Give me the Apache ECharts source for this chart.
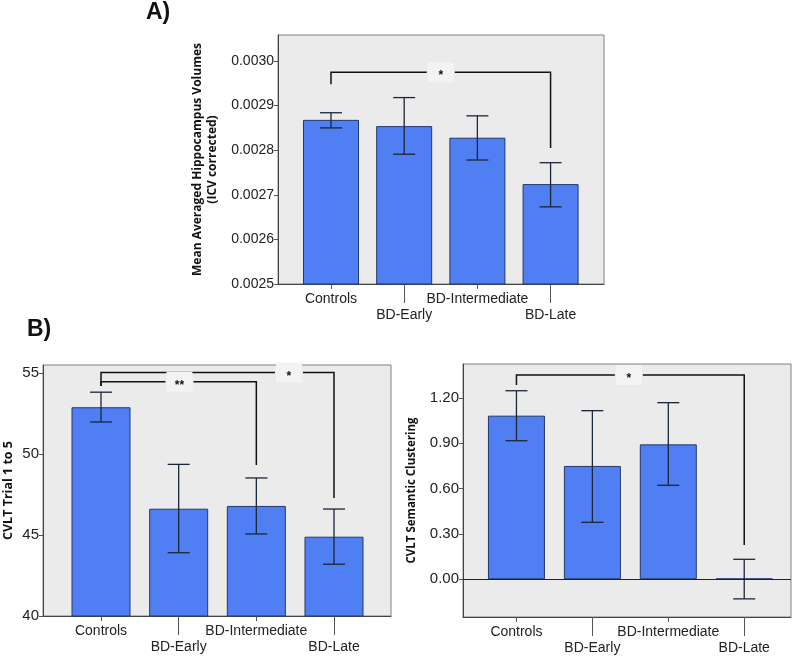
<!DOCTYPE html>
<html>
<head>
<meta charset="utf-8">
<script src="https://cdn.jsdelivr.net/npm/echarts@6/dist/echarts.min.js"></script>
<style>
  html, body { margin: 0; padding: 0; background: #fff; }
  #chart { width: 800px; height: 657px; }
</style>
</head>
<body>
<div id="chart"></div>
<script>
var groups = ['Controls', 'BD-Early', 'BD-Intermediate', 'BD-Late'];

// A) hippocampus volumes (mean, error bar low/high)
var hippoMean = [0.002868, 0.002854, 0.002828, 0.002724];
var hippoLow  = [0.002850, 0.002791, 0.002778, 0.002673];
var hippoHigh = [0.002884, 0.002918, 0.002877, 0.002772];
var hippoTicks = [0.0025, 0.0026, 0.0027, 0.0028, 0.0029, 0.0030];

// B) CVLT trial 1 to 5
var trialMean = [52.9, 46.63, 46.8, 44.9];
var trialLow  = [51.99, 43.91, 45.07, 43.2];
var trialHigh = [53.83, 49.37, 48.53, 46.61];
var trialTicks = [40, 45, 50, 55];

// B) CVLT semantic clustering
var clusterMean = [1.083, 0.75, 0.893, 0.004];
var clusterLow  = [0.917, 0.377, 0.622, -0.13];
var clusterHigh = [1.248, 1.116, 1.169, 0.132];
var clusterTicks = [0, 0.3, 0.6, 0.9, 1.2];

// significance brackets: [from, to, top, left end, right end, label at]
var hippoSig = [[0, 3, 0.002975, 0.002948, 0.002805, 1.5]];
var hippoSigText = ['*'];
var trialSig = [[0, 3, 55.04, 54.22, 47.29, 2.42], [0, 2, 54.48, 54.22, 49.33, 1.01]];
var trialSigText = ['*', '**'];
var clusterSig = [[0, 3, 1.352, 1.286, 0.227, 1.48]];
var clusterSigText = ['*'];

var FONT = 'Liberation Sans, Arial, sans-serif';
var TITLE_FONT = 'Open Sans, sans-serif';

var panels = [
  { grid: { left: 278, top: 35, width: 326, height: 249 },
    xMin: -0.724, xMax: 3.73, yMin: 0.0025, yMax: 0.0030583, ticks: hippoTicks, digits: 4,
    mean: hippoMean, low: hippoLow, high: hippoHigh, sig: hippoSig, sigText: hippoSigText,
    barWidth: 56, name: 'Mean Averaged Hippocampus Volumes\n(ICV corrected)', nameGap: 58, nameSize: 12, labelSize: 14 },
  { grid: { left: 40, top: 365, width: 351, height: 251 },
    xMin: -0.747, xMax: 3.734, yMin: 40, yMax: 55.51, ticks: trialTicks, digits: 0,
    mean: trialMean, low: trialLow, high: trialHigh, sig: trialSig, sigText: trialSigText,
    barWidth: 59, name: 'CVLT Trial 1 to 5', nameGap: 27, nameSize: 12.5, labelSize: 15 },
  { grid: { left: 463, top: 364, width: 328, height: 253 },
    xMin: -0.704, xMax: 3.616, yMin: -0.25, yMax: 1.425, ticks: clusterTicks, digits: 2,
    mean: clusterMean, low: clusterLow, high: clusterHigh, sig: clusterSig, sigText: clusterSigText,
    barWidth: 57, name: 'CVLT Semantic Clustering', nameGap: 44, nameSize: 11.5, labelSize: 15, zeroLine: true }
];

function errorItem(params, api){
  var lo = api.coord([api.value(0), api.value(1)]);
  var hi = api.coord([api.value(0), api.value(2)]);
  var w = 11;
  var st = { stroke: '#1b2638', lineWidth: 1.3 };
  return { type: 'group', children: [
    { type: 'line', shape: { x1: lo[0], y1: lo[1], x2: hi[0], y2: hi[1] }, style: st },
    { type: 'line', shape: { x1: lo[0] - w, y1: lo[1], x2: lo[0] + w, y2: lo[1] }, style: st },
    { type: 'line', shape: { x1: hi[0] - w, y1: hi[1], x2: hi[0] + w, y2: hi[1] }, style: st }
  ] };
}

function bracketRenderer(texts){
  return function(params, api){
    var a = api.coord([api.value(0), api.value(2)]);
    var b = api.coord([api.value(1), api.value(2)]);
    var l = api.coord([api.value(0), api.value(3)]);
    var r = api.coord([api.value(1), api.value(4)]);
    var m = api.coord([api.value(5), api.value(2)]);
    var gap = 14;
    var st = { stroke: '#111', lineWidth: 1.5, fill: null };
    return { type: 'group', children: [
      { type: 'polyline', shape: { points: [l, a, [m[0] - gap, a[1]]] }, style: st },
      { type: 'polyline', shape: { points: [[m[0] + gap, b[1]], b, r] }, style: st },
      { type: 'rect', shape: { x: m[0] - gap + 1, y: m[1] - 10, width: 2 * gap - 2, height: 20 }, style: { fill: '#f3f3f3' } },
      { type: 'text', style: { text: texts[params.dataIndex], x: m[0], y: m[1] + 4, align: 'center', verticalAlign: 'middle',
        font: 'bold 12px ' + FONT, fill: '#111' } }
    ] };
  };
}

function groupName(v){ return groups[Math.round(v)]; }

var grids = [], xAxes = [], yAxes = [], series = [];
panels.forEach(function(p, i){
  grids.push(Object.assign({ show: true, backgroundColor: '#ebebeb', borderColor: '#808080', borderWidth: 1 }, p.grid));
  // first row of labels (Controls, BD-Intermediate) with short ticks
  xAxes.push({
    type: 'value', gridIndex: i, position: 'bottom', min: p.xMin, max: p.xMax,
    axisLine: { show: true, onZero: false, lineStyle: { color: '#444', width: 1 } },
    splitLine: { show: false },
    axisTick: { show: true, customValues: [0, 2], length: 5, lineStyle: { color: '#555' } },
    axisLabel: { customValues: [0, 2], hideOverlap: false, showMinLabel: true, showMaxLabel: true,
      color: '#222', fontSize: 14, fontFamily: FONT, margin: 8, formatter: groupName }
  });
  // second row (BD-Early, BD-Late) with long ticks
  xAxes.push({
    type: 'value', gridIndex: i, position: 'bottom', min: p.xMin, max: p.xMax,
    axisLine: { show: false, onZero: false }, splitLine: { show: false },
    axisTick: { show: true, customValues: [1, 3], length: 19, lineStyle: { color: '#555' } },
    axisLabel: { customValues: [1, 3], hideOverlap: false, showMinLabel: true, showMaxLabel: true,
      color: '#222', fontSize: 14, fontFamily: FONT, margin: 24, formatter: groupName }
  });
  yAxes.push({
    type: 'value', gridIndex: i, position: 'left', min: p.yMin, max: p.yMax,
    axisLine: { show: true, onZero: false, lineStyle: { color: '#444', width: 1 } },
    splitLine: { show: false },
    axisTick: { show: true, customValues: p.ticks, length: 4, lineStyle: { color: '#555' } },
    axisLabel: { customValues: p.ticks, hideOverlap: false, color: '#222', fontSize: p.labelSize, fontFamily: FONT, margin: 4,
      formatter: (function(d){ return function(v){ return v.toFixed(d); }; })(p.digits) },
    name: p.name, nameLocation: 'middle', nameRotate: 90, nameGap: p.nameGap,
    nameTextStyle: { fontFamily: TITLE_FONT, fontWeight: 'bold', fontSize: p.nameSize, color: '#111', lineHeight: 15 }
  });
  var bar = {
    type: 'bar', xAxisIndex: 2 * i, yAxisIndex: i, barWidth: p.barWidth,
    data: p.mean.map(function(v, k){ return [k, v]; }),
    itemStyle: { color: '#4f7ff2', borderColor: '#23386b', borderWidth: 1 },
    silent: true
  };
  if(p.zeroLine){
    bar.markLine = { silent: true, symbol: 'none', label: { show: false },
      lineStyle: { color: '#222', width: 1, type: 'solid' }, data: [{ yAxis: 0 }] };
  }
  series.push(bar);
  series.push({
    type: 'custom', xAxisIndex: 2 * i, yAxisIndex: i, z: 5, renderItem: errorItem,
    data: p.mean.map(function(v, k){ return [k, p.low[k], p.high[k]]; })
  });
  series.push({
    type: 'custom', xAxisIndex: 2 * i, yAxisIndex: i, z: 6, renderItem: bracketRenderer(p.sigText),
    data: p.sig
  });
});

var chart = echarts.init(document.getElementById('chart'));
chart.setOption({
  animation: false,
  title: [
    { text: 'A)', left: 146, top: 1, padding: 0, textStyle: { fontSize: 23, fontWeight: 'bold', fontFamily: FONT, color: '#111' } },
    { text: 'B)', left: 27, top: 318, padding: 0, textStyle: { fontSize: 23, fontWeight: 'bold', fontFamily: FONT, color: '#111' } }
  ],
  grid: grids,
  xAxis: xAxes,
  yAxis: yAxes,
  series: series
});
</script>
</body>
</html>
